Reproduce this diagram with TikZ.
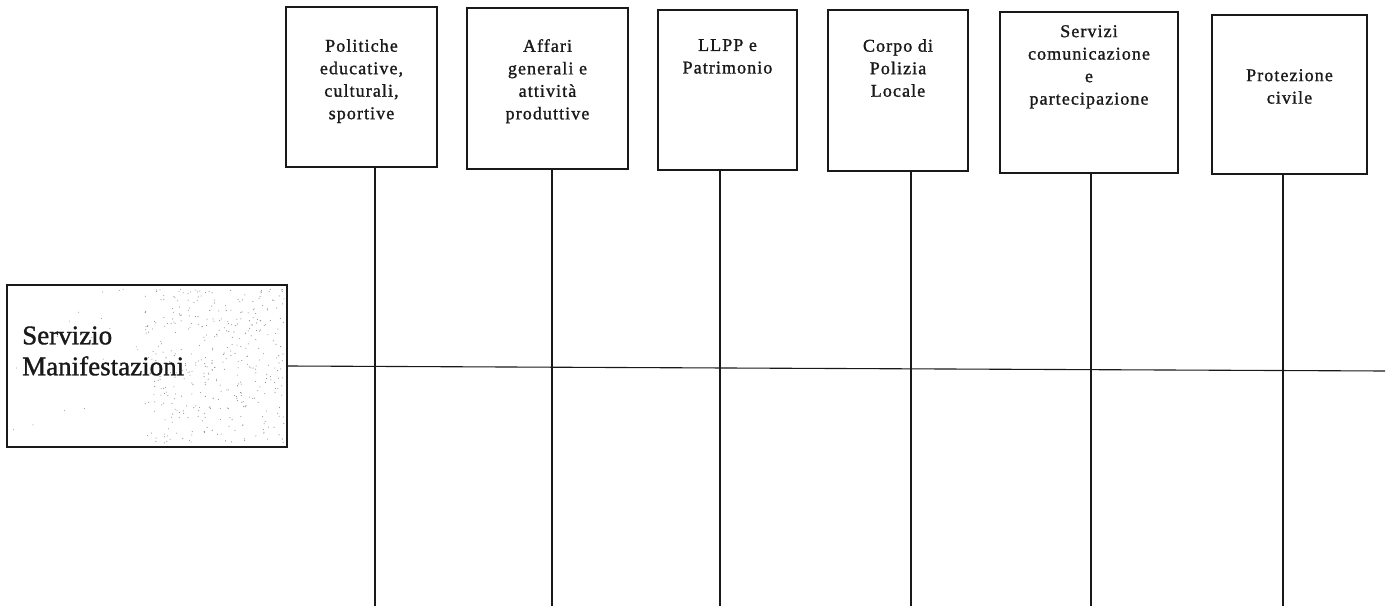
\documentclass[tikz,border=0pt]{standalone}
\usepackage{fontspec}
\setmainfont{Liberation Serif}
\newfontfamily\topfont[LetterSpace=6,FakeBold=1.2]{Liberation Serif}
\newfontfamily\leftfont[FakeBold=1.2]{Liberation Serif}
\begin{document}
\begin{tikzpicture}[x=1pt,y=-1pt,
  box/.style={draw=black!90, line width=1.1pt, inner sep=0pt, fill=white},
  lbl/.style={font={\topfont\fontsize{18}{22.5}\selectfont}, align=center, inner sep=0pt, anchor=north, text=black!90},
  lefttxt/.style={font={\leftfont\fontsize{27}{31}\selectfont}, align=left, inner sep=0pt, anchor=west, text=black!90},
  conn/.style={draw=black!90, line width=1.1pt},
  dotc/.style={fill=black!45}]
\fill[white] (0,0) rectangle (1393,610);
\useasboundingbox (0,0) rectangle (1393,610);

% left box
\node[box, minimum width=280pt, minimum height=162pt] (L) at (147,366) {};
\pgfmathsetseed{11}
\foreach \i in {1,...,380}{
  \pgfmathsetmacro{\dx}{284-140*rnd}
  \pgfmathsetmacro{\dy}{289+154*rnd}
  \fill[dotc] (\dx,\dy) circle (0.55pt);
}
\foreach \i in {1,...,45}{
  \pgfmathsetmacro{\dx}{10+270*rnd}
  \pgfmathsetmacro{\dy}{289+154*rnd}
  \fill[dotc] (\dx,\dy) circle (0.5pt);
}
\node[lefttxt] (Lt) at (22,351) {Servizio\\Manifestazioni};

% top boxes
\node[box, minimum width=151pt, minimum height=160pt] (b1) at (361.5,87) {};
\node[box, minimum width=161pt, minimum height=161pt] (b2) at (547.5,88.5) {};
\node[box, minimum width=139pt, minimum height=160pt] (b3) at (727.5,90) {};
\node[box, minimum width=140pt, minimum height=161pt] (b4) at (898,90.5) {};
\node[box, minimum width=178pt, minimum height=161pt] (b5) at (1089,92.5) {};
\node[box, minimum width=155pt, minimum height=159pt] (b6) at (1289.5,94.5) {};

\node[lbl] (t1) at (361.5,39) {Politiche\\educative,\\culturali,\\sportive};
\node[lbl] (t2) at (547.5,39) {Affari\\generali e\\attività\\produttive};
\node[lbl] (t3) at (727.5,39) {LLPP e\\Patrimonio};
\node[lbl] (t4) at (898,39) {Corpo di\\Polizia\\Locale};
\node[lbl] (t5) at (1089,25) {Servizi\\comunicazione\\e\\partecipazione};
\node[lbl] (t6) at (1289.5,69) {Protezione\\civile};

% connector ends
\coordinate (e1) at (375,606);
\coordinate (e2) at (552,606);
\coordinate (e3) at (720,606);
\coordinate (e4) at (911,606);
\coordinate (e5) at (1091,606);
\coordinate (e6) at (1283,606);
\coordinate (hend) at (1385,371);

\draw[conn] (L.east) -- (hend);
\draw[conn] (b1.south -| e1) -- (e1);
\draw[conn] (b2.south -| e2) -- (e2);
\draw[conn] (b3.south -| e3) -- (e3);
\draw[conn] (b4.south -| e4) -- (e4);
\draw[conn] (b5.south -| e5) -- (e5);
\draw[conn] (b6.south -| e6) -- (e6);
\end{tikzpicture}
\end{document}
